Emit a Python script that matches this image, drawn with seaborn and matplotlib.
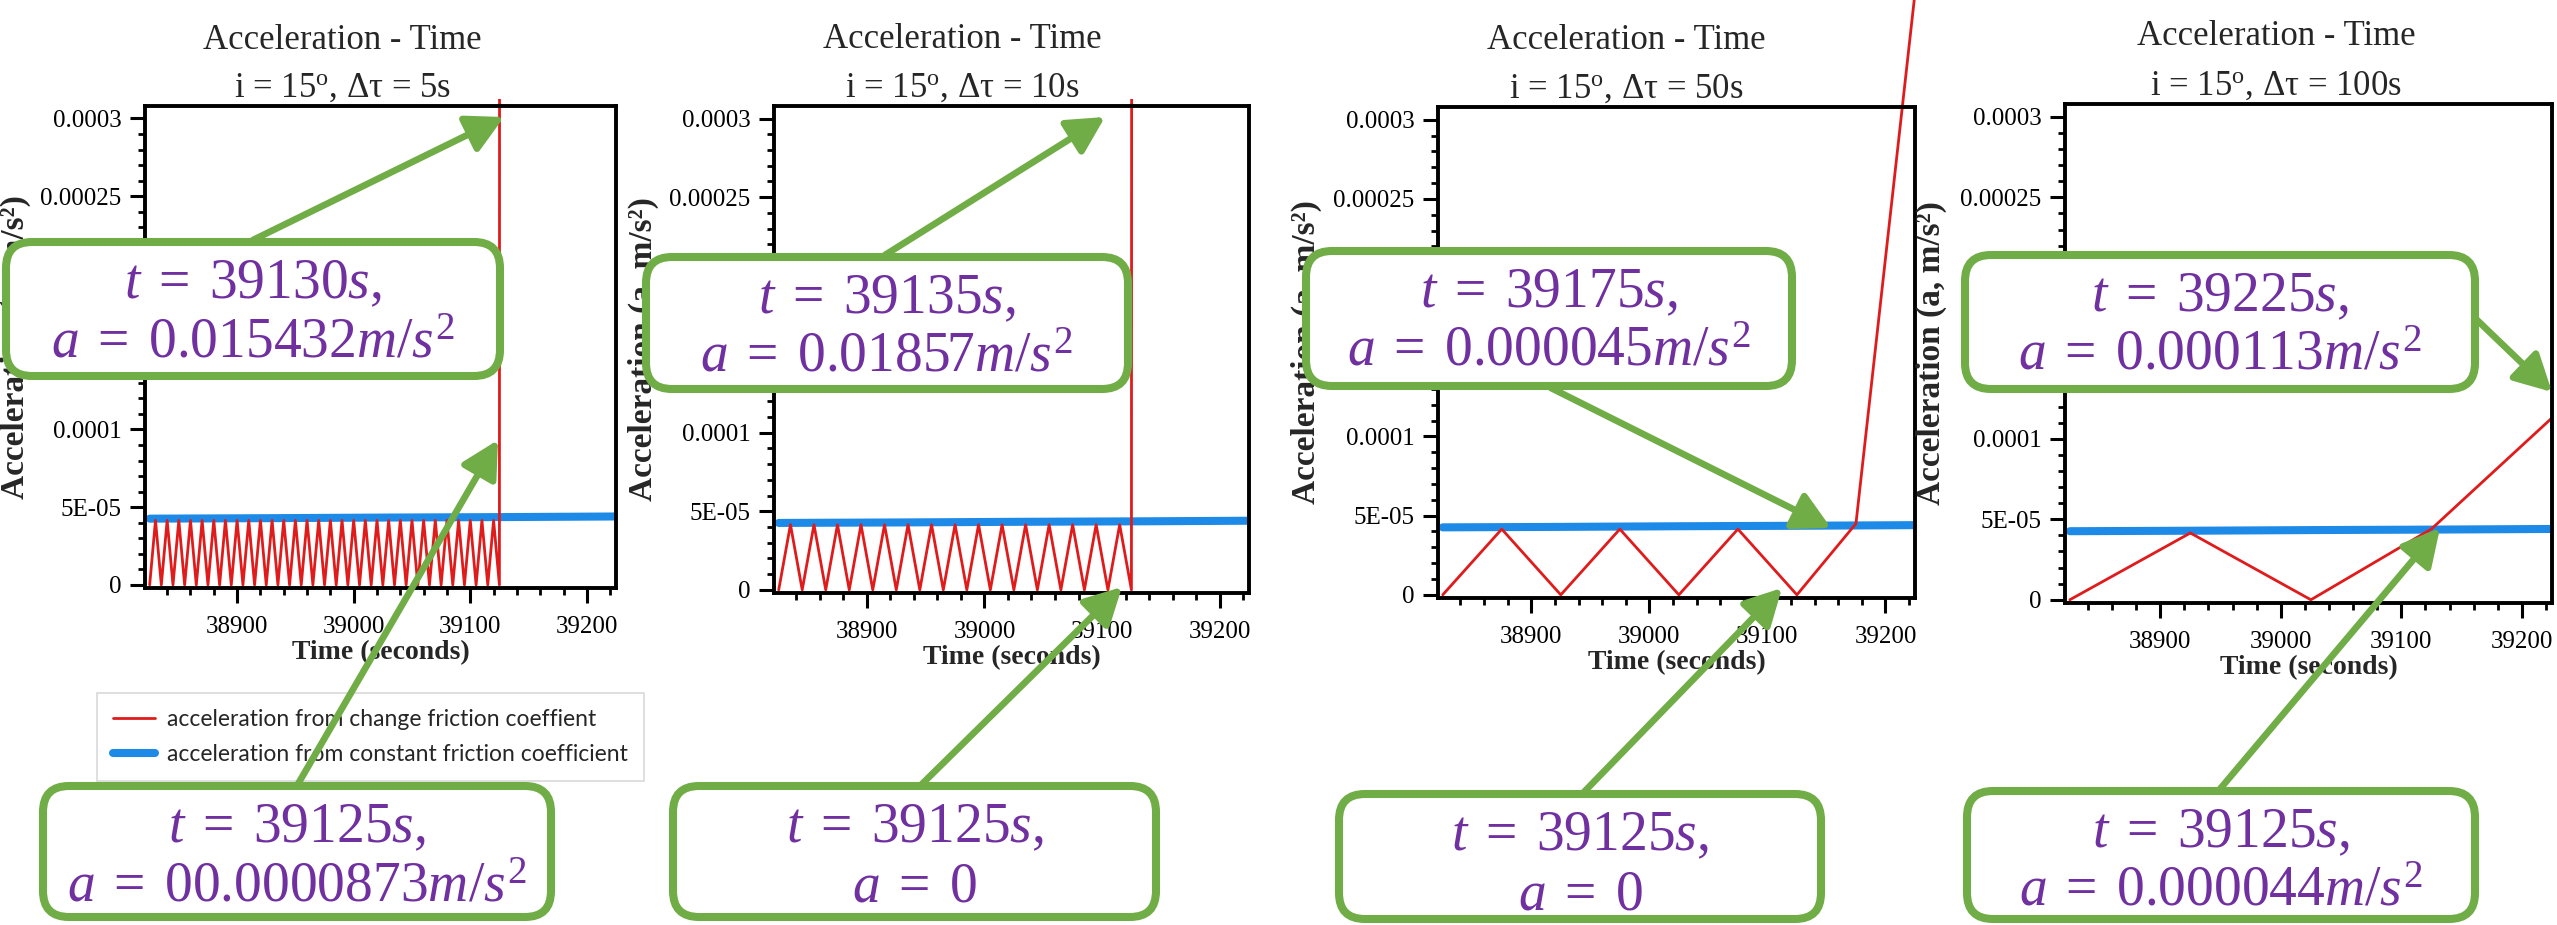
import numpy as np
import pandas as pd
import matplotlib
matplotlib.use("Agg")
import matplotlib.pyplot as plt
import seaborn as sns
from matplotlib.patches import FancyBboxPatch, FancyArrowPatch
from matplotlib.lines import Line2D
from matplotlib.ticker import FixedLocator, FixedFormatter, MultipleLocator
from matplotlib.transforms import Bbox, TransformedBbox

# ------------------------------------------------------------------ data
time_dt5 = [38825, 38830, 38835, 38840, 38845, 38850, 38855, 38860, 38865, 38870,
            38875, 38880, 38885, 38890, 38895, 38900, 38905, 38910, 38915, 38920,
            38925, 38930, 38935, 38940, 38945, 38950, 38955, 38960, 38965, 38970,
            38975, 38980, 38985, 38990, 38995, 39000, 39005, 39010, 39015, 39020,
            39025, 39030, 39035, 39040, 39045, 39050, 39055, 39060, 39065, 39070,
            39075, 39080, 39085, 39090, 39095, 39100, 39105, 39110, 39115, 39120,
            39125, 39130]
accel_dt5 = [0, 4.15e-5, 0, 4.15e-5, 0, 4.15e-5, 0, 4.15e-5, 0, 4.15e-5,
             0, 4.15e-5, 0, 4.15e-5, 0, 4.15e-5, 0, 4.15e-5, 0, 4.15e-5,
             0, 4.15e-5, 0, 4.15e-5, 0, 4.15e-5, 0, 4.15e-5, 0, 4.15e-5,
             0, 4.15e-5, 0, 4.15e-5, 0, 4.15e-5, 0, 4.15e-5, 0, 4.15e-5,
             0, 4.15e-5, 0, 4.15e-5, 0, 4.15e-5, 0, 4.15e-5, 0, 4.15e-5,
             0, 4.15e-5, 0, 4.15e-5, 0, 4.15e-5, 0, 4.15e-5, 0, 4.15e-5,
             0, 0.015432]

time_dt10 = [38825, 38835, 38845, 38855, 38865, 38875, 38885, 38895, 38905, 38915,
             38925, 38935, 38945, 38955, 38965, 38975, 38985, 38995, 39005, 39015,
             39025, 39035, 39045, 39055, 39065, 39075, 39085, 39095, 39105, 39115,
             39125, 39135]
accel_dt10 = [0, 4.15e-5, 0, 4.15e-5, 0, 4.15e-5, 0, 4.15e-5, 0, 4.15e-5,
              0, 4.15e-5, 0, 4.15e-5, 0, 4.15e-5, 0, 4.15e-5, 0, 4.15e-5,
              0, 4.15e-5, 0, 4.15e-5, 0, 4.15e-5, 0, 4.15e-5, 0, 4.15e-5,
              0, 0.01857]

time_dt50 = [38825, 38875, 38925, 38975, 39025, 39075, 39125, 39175, 39225]
accel_dt50 = [0, 4.15e-5, 0, 4.15e-5, 0, 4.15e-5, 0, 4.5e-5, 3.8e-4]

time_dt100 = [38825, 38925, 39025, 39125, 39225]
accel_dt100 = [0, 4.15e-5, 0, 4.4e-5, 1.13e-4]

time_const = [38825, 38925, 39025, 39125, 39225]
accel_const = [4.26e-5, 4.29e-5, 4.33e-5, 4.36e-5, 4.40e-5]

title_text = "Acceleration - Time"
subtitles = ["i = 15$^{\\mathrm{o}}$, Δτ = 5s", "i = 15$^{\\mathrm{o}}$, Δτ = 10s",
             "i = 15$^{\\mathrm{o}}$, Δτ = 50s", "i = 15$^{\\mathrm{o}}$, Δτ = 100s"]
xlabel_text = "Time (seconds)"
ylabel_text = "Acceleration (a, m/s²)"
xtick_values = [38900, 39000, 39100, 39200]
ytick_values = [0, 5e-5, 1e-4, 1.5e-4, 2e-4, 2.5e-4, 3e-4]
ytick_labels = ["0", "5E-05", "0.0001", "0.00015", "0.0002", "0.00025", "0.0003"]
legend_labels = ["acceleration from change friction coeffient",
                 "acceleration from constant friction coefficient"]
callout_texts = [
    ("$t\\;=\\;39130s,$", "$a\\;=\\;0.015432m/s^2$"),
    ("$t\\;=\\;39125s,$", "$a\\;=\\;00.0000873m/s^2$"),
    ("$t\\;=\\;39135s,$", "$a\\;=\\;0.01857m/s^2$"),
    ("$t\\;=\\;39125s,$", "$a\\;=\\;0$"),
    ("$t\\;=\\;39175s,$", "$a\\;=\\;0.000045m/s^2$"),
    ("$t\\;=\\;39125s,$", "$a\\;=\\;0$"),
    ("$t\\;=\\;39225s,$", "$a\\;=\\;0.000113m/s^2$"),
    ("$t\\;=\\;39125s,$", "$a\\;=\\;0.000044m/s^2$"),
]

# ------------------------------------------------------------------ style
sns.set_theme(style="ticks")
plt.rcParams["font.family"] = ["Liberation Serif", "DejaVu Serif"]
plt.rcParams["mathtext.fontset"] = "custom"
plt.rcParams["mathtext.rm"] = "Liberation Serif"
plt.rcParams["mathtext.it"] = "Liberation Serif:italic"
plt.rcParams["mathtext.bf"] = "Liberation Serif:bold"

RED = "#e01b1b"
BLUE = "#1e8ae8"
GREEN = "#70AD47"
PURPLE = "#7030A0"

W, H = 2557, 925
fig = plt.figure(figsize=(W / 100, H / 100), dpi=100)
fig.patch.set_facecolor("white")

# axes boxes in pixels: left, top, right, bottom
panels_px = [(145, 106, 616, 588), (774, 106, 1249, 593),
             (1438, 107, 1915, 598), (2065, 104, 2552, 603)]
title_x = [342, 962, 1626, 2276]
title_y = [(49, 97), (48, 97), (49, 98), (45, 95)]

series = [(time_dt5, accel_dt5), (time_dt10, accel_dt10),
          (time_dt50, accel_dt50), (time_dt100, accel_dt100)]

axes = []
for i, (l, t, r, b) in enumerate(panels_px):
    ax = fig.add_axes([l / W, 1 - b / H, (r - l) / W, (b - t) / H])
    axes.append(ax)
    sns.lineplot(x=time_const, y=accel_const, ax=ax, color=BLUE, linewidth=5.8,
                 solid_capstyle="round", estimator=None, sort=False, legend=False)
    tx, ay = series[i]
    sns.lineplot(x=tx, y=ay, ax=ax, color=RED, linewidth=2.0,
                 estimator=None, sort=False, legend=False)
    red_line = ax.lines[-1]
    if i in (0, 1):
        red_line.set_clip_box(TransformedBbox(Bbox([[0, 0], [1, 1.015]]), ax.transAxes))
    elif i == 2:
        red_line.set_clip_on(False)

    ax.set_xlim(38821, 39225)
    ax.set_ylim(-2e-6, 3.08e-4)
    ax.xaxis.set_major_locator(FixedLocator(xtick_values))
    ax.xaxis.set_minor_locator(MultipleLocator(20))
    ax.yaxis.set_major_locator(FixedLocator(ytick_values))
    ax.yaxis.set_major_formatter(FixedFormatter(ytick_labels))
    ax.yaxis.set_minor_locator(MultipleLocator(1e-5))
    ax.tick_params(which="major", length=11, width=2.2, direction="out",
                   labelsize=18, color="black", labelcolor="black")
    ax.tick_params(axis="x", which="major", pad=9)
    ax.tick_params(axis="y", which="major", pad=6)
    ax.tick_params(which="minor", length=5, width=2.0, direction="out", color="black")
    ax.tick_params(top=False, right=False, which="both")
    for sp in ax.spines.values():
        sp.set_visible(True)
        sp.set_linewidth(2.8)
        sp.set_color("black")
    ax.set_facecolor("white")
    ax.set_xlabel(xlabel_text, fontsize=20, fontweight="bold", labelpad=2)
    ax.set_ylabel(ylabel_text, fontsize=24, fontweight="bold")
    ax.yaxis.set_label_coords(-0.243, 0.5)

    fig.text(title_x[i] / W, 1 - title_y[i][0] / H, title_text, ha="center",
             va="baseline", fontsize=25)
    fig.text(title_x[i] / W, 1 - title_y[i][1] / H, subtitles[i], ha="center",
             va="baseline", fontsize=25)

handles = [Line2D([], [], color=RED, lw=2.0), Line2D([], [], color=BLUE, lw=5.8)]
leg = fig.legend(handles, legend_labels, loc="upper left",
                 bbox_to_anchor=(97 / W, 1 - 693 / H), bbox_transform=fig.transFigure,
                 frameon=True, fancybox=False, edgecolor="#d9d9d9", framealpha=1,
                 prop=dict(family="Lato", size=16.5), handlelength=1.85,
                 handletextpad=0.5, labelspacing=0.6, borderpad=0.7, borderaxespad=0)
leg.get_frame().set_linewidth(1.2)

# ------------------------------------------------------------------ callouts
ov = fig.add_axes([0, 0, 1, 1], zorder=20)
ov.set_xlim(0, W)
ov.set_ylim(H, 0)
ov.axis("off")
ov.patch.set_alpha(0)

boxes = [(2, 238, 504, 380), (39, 782, 555, 921),
         (642, 253, 1132, 393), (669, 782, 1160, 921),
         (1302, 247, 1796, 390), (1335, 790, 1825, 923),
         (1961, 251, 2479, 393), (1963, 787, 2479, 923)]
arrows = [(253, 240, 504, 117), (298, 784, 498, 440),
          (885, 255, 1105, 117), (922, 784, 1122, 587),
          (1551, 388, 1831, 528), (1584, 792, 1782, 588),
          (2477, 320, 2552, 392), (2220, 789, 2440, 528)]

for xs, ys, xe, ye in arrows:
    ov.add_patch(FancyArrowPatch((xs, ys), (xe, ye),
                                 arrowstyle="-|>,head_length=1.6,head_width=0.85",
                                 mutation_scale=14, lw=4.8, color=GREEN,
                                 shrinkA=0, shrinkB=0))

inset = 4
for (x0, y0, x1, y1), (l1, l2) in zip(boxes, callout_texts):
    ov.add_patch(FancyBboxPatch((x0 + inset, y0 + inset), x1 - x0 - 2 * inset,
                                y1 - y0 - 2 * inset,
                                boxstyle="round,pad=0,rounding_size=26",
                                fc="white", ec=GREEN, lw=5.8))
    cx = (x0 + x1) / 2
    ov.text(cx, y0 + 60, l1, ha="center", va="baseline", fontsize=40, color=PURPLE)
    ov.text(cx, y0 + 119, l2, ha="center", va="baseline", fontsize=40, color=PURPLE)

fig.savefig("out.png", dpi=100, facecolor="white")
